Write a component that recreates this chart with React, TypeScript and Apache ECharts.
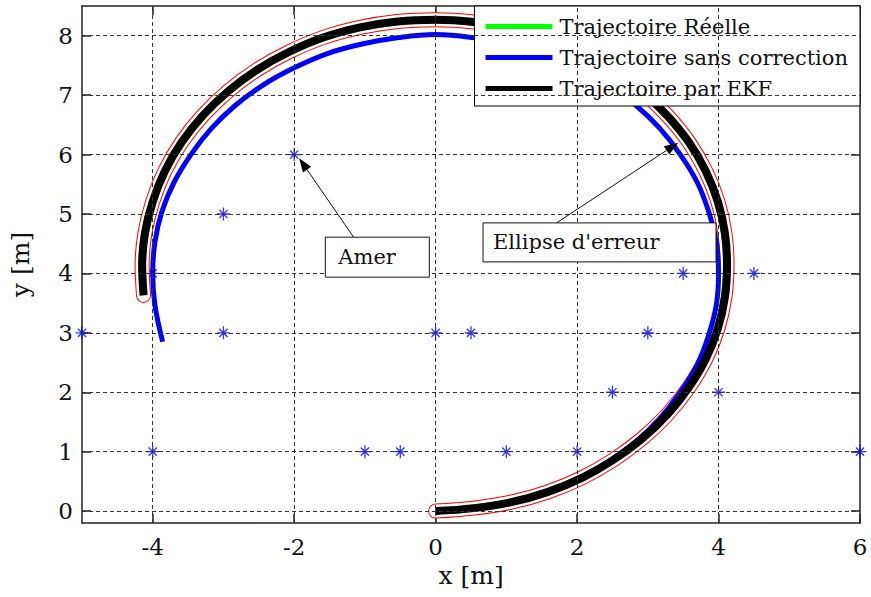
import React, { useEffect, useRef } from "react";
import * as echarts from "echarts";

// Axis ticks and grid positions
const xTicks = [-4, -2, 0, 2, 4, 6];
const yTicks = [0, 1, 2, 3, 4, 5, 6, 7, 8];
const xGridLines = [-4, -2, 0, 2, 4];
const yGridLines = [0, 1, 2, 3, 4, 5, 6, 7, 8];

// Landmarks (amers) [x, y]
const landmarks = [
  [-5, 3], [-4, 4], [-3, 5], [-3, 3], [-2, 6], [-4, 1], [-1, 1], [-0.5, 1],
  [0, 3], [0.5, 3], [1, 1], [2, 1], [2.5, 2], [3, 3], [3.5, 4], [4.5, 4],
  [4, 2], [6, 1],
];

// Real trajectory [x, y]
const realPath = [
  [0, 0.03], [0.53, 0.09], [1.06, 0.19], [1.57, 0.36], [2.05, 0.6], [2.49, 0.89],
  [2.89, 1.25], [3.24, 1.65], [3.54, 2.1], [3.78, 2.57], [3.95, 3.08], [4.05, 3.61],
  [4.08, 4.14], [4.05, 4.67], [3.95, 5.2], [3.78, 5.71], [3.54, 6.19], [3.24, 6.63],
  [2.89, 7.03], [2.49, 7.39], [2.05, 7.68], [1.57, 7.92], [1.06, 8.09], [0.53, 8.19],
  [0, 8.23], [-0.53, 8.2], [-1.06, 8.1], [-1.57, 7.93], [-2.05, 7.69], [-2.49, 7.4],
  [-2.9, 7.04], [-3.25, 6.64], [-3.55, 6.19], [-3.79, 5.71], [-3.96, 5.2], [-4.07, 4.67],
  [-4.11, 4.14], [-4.09, 3.67],
];

// Odometry only (no correction) [x, y]
const driftPath = [
  [0, 0], [0.52, 0.03], [1.04, 0.14], [1.53, 0.3], [2.0, 0.54], [2.44, 0.83],
  [2.83, 1.17], [3.17, 1.56], [3.46, 2.0], [3.7, 2.47], [3.86, 2.96], [3.97, 3.48],
  [4.0, 4.0], [3.97, 4.52], [3.86, 5.04], [3.7, 5.53], [3.46, 6.0], [3.17, 6.44],
  [2.83, 6.83], [2.44, 7.17], [2.0, 7.46], [1.53, 7.7], [1.04, 7.86], [0.52, 7.97],
  [0, 8.02], [-0.52, 7.97], [-1.04, 7.86], [-1.53, 7.7], [-2.0, 7.46], [-2.44, 7.17],
  [-2.83, 6.83], [-3.17, 6.44], [-3.46, 6.0], [-3.7, 5.53], [-3.87, 5.04], [-3.97, 4.52],
  [-4.0, 4.0], [-3.97, 3.48], [-3.86, 2.85],
];

// EKF estimate [x, y]
const ekfPath = [
  [0, 0], [0.54, 0.05], [1.07, 0.15], [1.58, 0.32], [2.07, 0.56], [2.51, 0.86],
  [2.92, 1.22], [3.28, 1.63], [3.58, 2.08], [3.82, 2.56], [3.99, 3.07], [4.09, 3.6],
  [4.12, 4.14], [4.09, 4.68], [3.99, 5.21], [3.82, 5.72], [3.58, 6.21], [3.28, 6.65],
  [2.92, 7.06], [2.51, 7.42], [2.07, 7.72], [1.58, 7.96], [1.07, 8.13], [0.54, 8.23],
  [0, 8.27], [-0.54, 8.24], [-1.07, 8.14], [-1.59, 7.97], [-2.07, 7.73], [-2.52, 7.43],
  [-2.93, 7.07], [-3.29, 6.66], [-3.59, 6.21], [-3.83, 5.72], [-4.0, 5.21], [-4.11, 4.68],
  [-4.15, 4.14], [-4.13, 3.63],
];

const legendNames = [
  "Trajectoire Réelle",
  "Trajectoire sans correction",
  "Trajectoire par EKF",
];

// Callout boxes: arrow tip and box corner in data units, box size in px
const annotations = [
  { text: "Amer", tip: [-1.93, 5.94], corner: [-1.56, 4.61], tail: [-1.16, 4.61], w: 104, h: 40, pad: 13 },
  { text: "Ellipse d'erreur", tip: [3.43, 6.2], corner: [0.67, 4.85], tail: [1.71, 4.85], w: 233, h: 39, pad: 10 },
];

const FONT = "DejaVu Serif";
const STAR =
  "path://M9 0H11V20H9Z M0 9H20V11H0Z M2.93 4.34L4.34 2.93L17.07 15.66L15.66 17.07Z M15.66 2.93L17.07 4.34L4.34 17.07L2.93 15.66Z";

const frame = { show: true, onZero: false, lineStyle: { color: "#222", width: 1.5 } };

function makeXAxis(pos: "bottom" | "top", main: boolean) {
  return {
    type: "value",
    min: -5,
    max: 6,
    position: pos,
    name: main ? "x [m]" : "",
    nameLocation: "middle",
    nameGap: 40,
    nameTextStyle: { fontFamily: FONT, fontSize: 25, color: "#111" },
    axisLine: frame,
    axisTick: { show: true, inside: true, length: 9, customValues: xTicks, lineStyle: { color: "#222", width: 1.5 } },
    axisLabel: { show: main, customValues: xTicks, margin: 12, fontFamily: FONT, fontSize: 23, color: "#111" },
    splitLine: { show: false },
  };
}

function makeYAxis(pos: "left" | "right", main: boolean) {
  return {
    type: "value",
    min: -0.2,
    max: 8.5,
    position: pos,
    name: main ? "y [m]" : "",
    nameLocation: "middle",
    nameGap: 49,
    nameTextStyle: { fontFamily: FONT, fontSize: 25, color: "#111" },
    axisLine: frame,
    axisTick: { show: true, inside: true, length: 9, customValues: yTicks, lineStyle: { color: "#222", width: 1.5 } },
    axisLabel: { show: main, customValues: yTicks, margin: 9, fontFamily: FONT, fontSize: 23, color: "#111" },
    splitLine: { show: false },
  };
}

function lineSeries(name: string, data: number[][], color: string, width: number, cap = "butt") {
  return {
    name,
    type: "line",
    data,
    smooth: 0.4,
    symbol: "none",
    showSymbol: false,
    silent: true,
    itemStyle: { color },
    lineStyle: { color, width, cap, join: "round" },
  };
}

export default function App() {
  const ref = useRef<HTMLDivElement>(null);

  useEffect(() => {
    const el = ref.current!;
    const chart = echarts.init(el, null, { renderer: "svg" });

    chart.setOption({
      animation: false,
      backgroundColor: "#fff",
      grid: { left: 80, right: 11, top: 6, bottom: 74, containLabel: false },
      xAxis: [makeXAxis("bottom", true), makeXAxis("top", false)],
      yAxis: [makeYAxis("left", true), makeYAxis("right", false)],
      legend: {
        data: legendNames,
        orient: "vertical",
        right: 11,
        top: 6,
        padding: [10, 12, 7, 11],
        itemGap: 10,
        itemWidth: 67,
        itemHeight: 5,
        icon: "rect",
        selectedMode: false,
        backgroundColor: "#fff",
        borderColor: "#000",
        borderWidth: 1,
        borderRadius: 0,
        textStyle: { fontFamily: FONT, fontSize: 21, color: "#111", padding: [0, 0, 0, 2] },
      },
      series: [
        {
          name: "Amer",
          type: "scatter",
          data: landmarks,
          symbol: STAR,
          symbolSize: 13,
          silent: true,
          itemStyle: { color: "#0000ff" },
          markLine: {
            silent: true,
            symbol: ["none", "none"],
            label: { show: false },
            lineStyle: { type: [4, 3], color: "#333", width: 1 },
            emphasis: { disabled: true },
            data: [
              ...xGridLines.map((v) => ({ xAxis: v })),
              ...yGridLines.map((v) => ({ yAxis: v })),
            ],
          },
        },
        lineSeries("ellipse-edge", ekfPath, "#ff0000", 15, "round"),
        lineSeries("ellipse-fill", ekfPath, "#ffffff", 13, "round"),
        lineSeries(legendNames[0], realPath, "#00ff00", 2.5),
        lineSeries(legendNames[1], driftPath, "#0000ff", 5),
        lineSeries(legendNames[2], ekfPath, "#000000", 8),
      ],
    });

    const toPx = (p: number[]) =>
      chart.convertToPixel({ xAxisIndex: 0, yAxisIndex: 0 }, p) as number[];

    const graphic: any[] = [];
    for (const a of annotations) {
      const [bx, by] = toPx(a.corner);
      const tip = toPx(a.tip);
      const tail = toPx(a.tail);
      const dx = tip[0] - tail[0];
      const dy = tip[1] - tail[1];
      const len = Math.hypot(dx, dy);
      const ux = dx / len;
      const uy = dy / len;
      const headLen = 14;
      const headHalf = 5;
      const baseX = tip[0] - ux * headLen;
      const baseY = tip[1] - uy * headLen;
      graphic.push(
        {
          type: "line",
          z: 50,
          shape: { x1: tail[0], y1: tail[1], x2: baseX, y2: baseY },
          style: { stroke: "#111", lineWidth: 1 },
        },
        {
          type: "polygon",
          z: 50,
          shape: {
            points: [
              [tip[0], tip[1]],
              [baseX - uy * headHalf, baseY + ux * headHalf],
              [baseX + uy * headHalf, baseY - ux * headHalf],
            ],
          },
          style: { fill: "#000" },
        },
        {
          type: "rect",
          z: 50,
          shape: { x: bx, y: by, width: a.w, height: a.h },
          style: { fill: "#fff", stroke: "#111", lineWidth: 1 },
        },
        {
          type: "text",
          z: 51,
          style: {
            text: a.text,
            x: bx + a.pad,
            y: by + a.h / 2,
            verticalAlign: "middle",
            align: "left",
            fontFamily: FONT,
            fontSize: 21,
            fill: "#111",
          },
        }
      );
    }
    chart.setOption({ graphic });

    return () => chart.dispose();
  }, []);

  return (
    <div
      ref={ref}
      style={{ position: "fixed", left: 0, top: 0, width: 871, height: 597, background: "#fff" }}
    />
  );
}
